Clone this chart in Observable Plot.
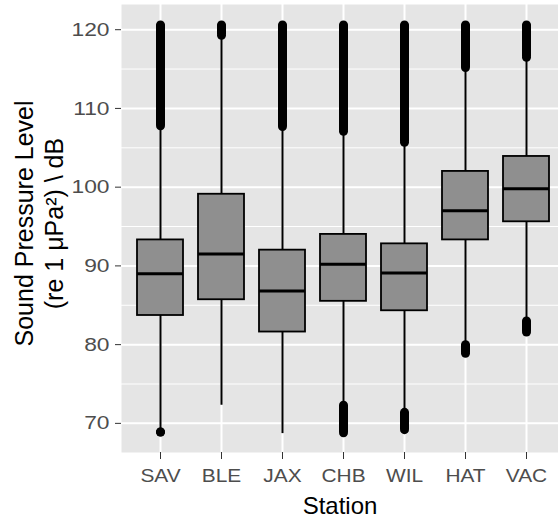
<!DOCTYPE html>
<html>
<head>
<meta charset="utf-8">
<script src="https://cdn.jsdelivr.net/npm/d3@7"></script>
<script src="https://cdn.jsdelivr.net/npm/@observablehq/plot@0.6"></script>
<style>
  html, body { margin: 0; padding: 0; background: #ffffff; }
  #chart svg { display: block; }
</style>
</head>
<body>
<div id="chart"></div>
<script>
// Categories
const stations = ["SAV", "BLE", "JAX", "CHB", "WIL", "HAT", "VAC"];
// Box statistics (dB)
const q1 =          [83.7, 85.7, 81.6, 85.5, 84.3, 93.3, 95.6];
const median =      [89.0, 91.5, 86.8, 90.2, 89.1, 97.0, 99.8];
const q3 =          [93.3, 99.1, 92.0, 94.0, 92.8, 102.0, 103.9];
const whiskerLow =  [69.3, 72.3, 68.7, 72.6, 71.5, 80.3, 83.3];
const whiskerHigh = [107.6, 119.1, 107.5, 106.9, 105.5, 115.0, 116.3];
// Outlier extents (dense runs of points)
const upperOutMin = [107.8, 119.3, 107.7, 107.1, 105.7, 115.2, 116.5];
const upperOutMax = [120.6, 120.6, 120.6, 120.6, 120.6, 120.6, 120.6];
const lowerOutMin = [68.9, null, null, 68.8, 69.2, 78.9, 81.6];
const lowerOutMax = [68.9, null, null, 72.3, 71.4, 80.0, 83.0];
// Axis ticks
const yTicks = [70, 80, 90, 100, 110, 120];
const yMinor = [75, 85, 95, 105, 115];

const rows = stations.map((s, i) => ({
  station: s, q1: q1[i], median: median[i], q3: q3[i],
  lo: whiskerLow[i], hi: whiskerHigh[i],
  uMin: upperOutMin[i], uMax: upperOutMax[i],
  lMin: lowerOutMin[i], lMax: lowerOutMax[i]
}));
const lowRows = rows.filter(d => d.lMin != null);
const outPts = [];
rows.forEach(d => {
  outPts.push({station: d.station, v: d.uMin}, {station: d.station, v: d.uMax});
  if (d.lMin != null) outPts.push({station: d.station, v: d.lMin}, {station: d.station, v: d.lMax});
});

const fontFamily = "'Liberation Sans', Arial, Helvetica, sans-serif";

const chart = Plot.plot({
  width: 558,
  height: 521,
  marginLeft: 121,
  marginRight: 0,
  marginTop: 4,
  marginBottom: 69,
  style: { fontFamily, background: "#ffffff", color: "#000" },
  x: { type: "band", domain: stations, range: [120.8, 563.9], paddingInner: 0.253, paddingOuter: 0.226, axis: null },
  y: { domain: [66.3, 123.2], axis: null },
  marks: [
    Plot.frame({ fill: "#E5E5E5", stroke: null }),
    Plot.ruleY(yMinor, { stroke: "#ffffff", strokeWidth: 1 }),
    Plot.ruleY(yTicks, { stroke: "#ffffff", strokeWidth: 2 }),
    Plot.ruleX(stations, { x: d => d, stroke: "#ffffff", strokeWidth: 2 }),
    // whiskers
    Plot.ruleX(rows, { x: "station", y1: "lo", y2: "q1", stroke: "#000", strokeWidth: 2 }),
    Plot.ruleX(rows, { x: "station", y1: "q3", y2: "hi", stroke: "#000", strokeWidth: 2 }),
    // outliers
    Plot.ruleX(rows, { x: "station", y1: "uMin", y2: "uMax", stroke: "#000", strokeWidth: 9 }),
    Plot.ruleX(lowRows, { x: "station", y1: "lMin", y2: "lMax", stroke: "#000", strokeWidth: 9 }),
    Plot.dot(outPts, { x: "station", y: "v", r: 4.5, fill: "#000", stroke: null }),
    // boxes
    Plot.barY(rows, { x: "station", y1: "q1", y2: "q3", fill: "#8F8F8F", stroke: "#000", strokeWidth: 1.8 }),
    Plot.tickY(rows, { x: "station", y: "median", stroke: "#000", strokeWidth: 3 }),
    // axes
    Plot.axisY({ ticks: yTicks, tickSize: 6, tickPadding: 6, fontSize: 19, stroke: "#333333", fill: "#4D4D4D", label: null }),
    Plot.axisX({ tickSize: 7, tickPadding: 9, fontSize: 19, stroke: "#333333", fill: "#4D4D4D", label: null }),
    // axis titles
    Plot.text(["Station"], { frameAnchor: "bottom", dy: 61, fontSize: 24, fill: "#000", text: d => d }),
    Plot.text(["Sound Pressure Level\n(re 1 μPa²) \\ dB"], { frameAnchor: "left", textAnchor: "middle", dx: -83, dy: -5, rotate: -90, fontSize: 25, lineHeight: 1.2, fill: "#000", text: d => d })
  ]
});
document.getElementById("chart").appendChild(chart);

// Widen tick label glyphs slightly to match the reference rendering
function widen(selector, factor) {
  chart.querySelectorAll(selector).forEach(t => {
    const len = t.getComputedTextLength();
    if (len > 0) {
      t.setAttribute("textLength", (len * factor).toFixed(2));
      t.setAttribute("lengthAdjust", "spacingAndGlyphs");
    }
  });
}
widen("g[aria-label='y-axis tick label'] text", 1.2);
widen("g[aria-label='x-axis tick label'] text", 1.1);
</script>
</body>
</html>
